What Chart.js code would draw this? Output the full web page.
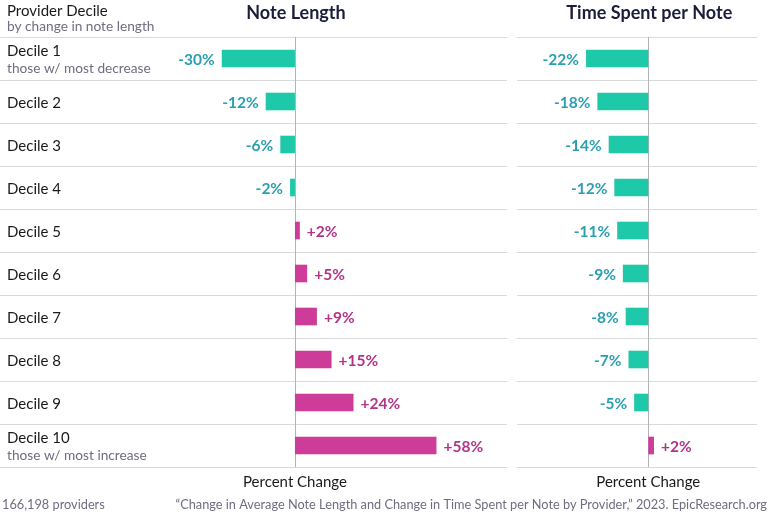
<!DOCTYPE html>
<html>
<head>
<meta charset="utf-8">
<script src="https://cdn.jsdelivr.net/npm/chart.js@4.4.1/dist/chart.umd.min.js"></script>
<style>
html,body{margin:0;padding:0;background:#fff;}
#wrap{position:relative;width:768px;height:512px;}
canvas{display:block;}
</style>
</head>
<body>
<div id="wrap"><canvas id="c" width="768" height="512"></canvas></div>
<script>
const categories = ["Decile 1","Decile 2","Decile 3","Decile 4","Decile 5","Decile 6","Decile 7","Decile 8","Decile 9","Decile 10"];
const subLabels = ["those w/ most decrease","","","","","","","","","those w/ most increase"];
const noteLength = [-30,-12,-6,-2,2,5,9,15,24,58];
const timeSpent = [-22,-18,-14,-12,-11,-9,-8,-7,-5,2];
const panelTitles = ["Note Length","Time Spent per Note"];
const axisTitle = "Percent Change";
const headerTitle = "Provider Decile";
const headerSub = "by change in note length";
const footLeft = "166,198 providers";
const footRight = "\u201CChange in Average Note Length and Change in Time Spent per Note by Provider,\u201D 2023. EpicResearch.org";

const NEG = '#1dc9a9', POS = '#cc3c98';
const NEG_T = '#2a9fb0', POS_T = '#b23388';
const FONT = 'Lato, "Noto Sans", sans-serif';

const overlay = {
  id:'overlay',
  beforeDatasetsDraw(chart){
    const ctx = chart.ctx, ca = chart.chartArea;
    const step = (ca.bottom - ca.top)/categories.length;
    ctx.save();
    ctx.strokeStyle = '#d9d9d9'; ctx.lineWidth = 1;
    for(let i=0;i<=categories.length;i++){
      const yy = Math.round(ca.top + i*step) + 0.5;
      ctx.beginPath(); ctx.moveTo(0,yy); ctx.lineTo(507,yy); ctx.stroke();
      ctx.beginPath(); ctx.moveTo(517,yy); ctx.lineTo(757,yy); ctx.stroke();
    }
    ctx.strokeStyle = '#b3b3b3';
    ['xL','xR'].forEach(id=>{
      const x0 = Math.round(chart.scales[id].getPixelForValue(0)) + 0.5;
      ctx.beginPath(); ctx.moveTo(x0, ca.top); ctx.lineTo(x0, ca.bottom); ctx.stroke();
    });
    ctx.restore();
  },
  afterDatasetsDraw(chart){
    const ctx = chart.ctx, ys = chart.scales.y;
    ctx.save();
    chart.data.datasets.forEach((ds,di)=>{
      const meta = chart.getDatasetMeta(di);
      meta.data.forEach((bar,i)=>{
        const v = ds.data[i];
        const txt = (v>0?'+':'') + v + '%';
        ctx.font = 'bold 15.5px ' + FONT;
        ctx.textBaseline = 'middle';
        if(v<0){ ctx.fillStyle = NEG_T; ctx.textAlign='right'; ctx.fillText(txt, bar.x - 7, bar.y+1); }
        else { ctx.fillStyle = POS_T; ctx.textAlign='left'; ctx.fillText(txt, bar.x + 7, bar.y+1); }
      });
    });
    categories.forEach((c,i)=>{
      const yc = ys.getPixelForValue(i);
      ctx.textAlign='left'; ctx.textBaseline='middle';
      if(subLabels[i]){
        ctx.font = '15px ' + FONT; ctx.fillStyle='#1a1a1a';
        ctx.fillText(c, 7, yc-7);
        ctx.font = '13.7px ' + FONT; ctx.fillStyle='#6e6e82';
        ctx.fillText(subLabels[i], 7, yc+10);
      } else {
        ctx.font = '15px ' + FONT; ctx.fillStyle='#1a1a1a';
        ctx.fillText(c, 7, yc+1.5);
      }
    });
    ctx.textBaseline='middle'; ctx.textAlign='left';
    ctx.font = '15px ' + FONT; ctx.fillStyle='#1a1a1a';
    ctx.fillText(headerTitle, 7, 11);
    ctx.font = '13.7px ' + FONT; ctx.fillStyle='#6e6e82';
    ctx.fillText(headerSub, 7, 27);
    ctx.font = 'bold 18px ' + FONT; ctx.fillStyle='#1c1c3c'; ctx.textAlign='center';
    ctx.fillText(panelTitles[0], chart.scales.xL.getPixelForValue(0)+1, 13);
    ctx.fillText(panelTitles[1], chart.scales.xR.getPixelForValue(0)+1, 13);
    ctx.font = '15px ' + FONT; ctx.fillStyle='#1a1a1a';
    ctx.fillText(axisTitle, chart.scales.xL.getPixelForValue(0), 482);
    ctx.fillText(axisTitle, chart.scales.xR.getPixelForValue(0), 482);
    ctx.font = '12.75px ' + FONT; ctx.fillStyle='#6e6e82';
    ctx.textAlign='left'; ctx.fillText(footLeft, 2, 505);
    ctx.textAlign='right'; ctx.fillText(footRight, 767, 505);
    ctx.restore();
  }
};

function build(){
  new Chart(document.getElementById('c'), {
    type:'bar',
    data:{
      labels: categories,
      datasets:[
        {label:panelTitles[0], data:noteLength, xAxisID:'xL', yAxisID:'y',
         backgroundColor: noteLength.map(v=>v<0?NEG:POS), barPercentage:0.41, categoryPercentage:1, grouped:false},
        {label:panelTitles[1], data:timeSpent, xAxisID:'xR', yAxisID:'y',
         backgroundColor: timeSpent.map(v=>v<0?NEG:POS), barPercentage:0.41, categoryPercentage:1, grouped:false}
      ]
    },
    options:{
      indexAxis:'y',
      responsive:false,
      animation:false,
      layout:{padding:{top:37,bottom:45,left:0,right:0}},
      plugins:{legend:{display:false},tooltip:{enabled:false},title:{display:false}},
      scales:{
        y:{display:false, offset:true},
        xL:{display:false, type:'linear', min:-120.9, max:193.9},
        xR:{display:false, type:'linear', min:-229.1, max:42.3}
      }
    },
    plugins:[overlay]
  });
}
if(document.fonts && document.fonts.load){
  Promise.all([document.fonts.load('15px Lato'),document.fonts.load('bold 18px Lato'),document.fonts.load('bold 15.5px Lato')]).then(build, build);
} else build();
</script>
</body>
</html>
